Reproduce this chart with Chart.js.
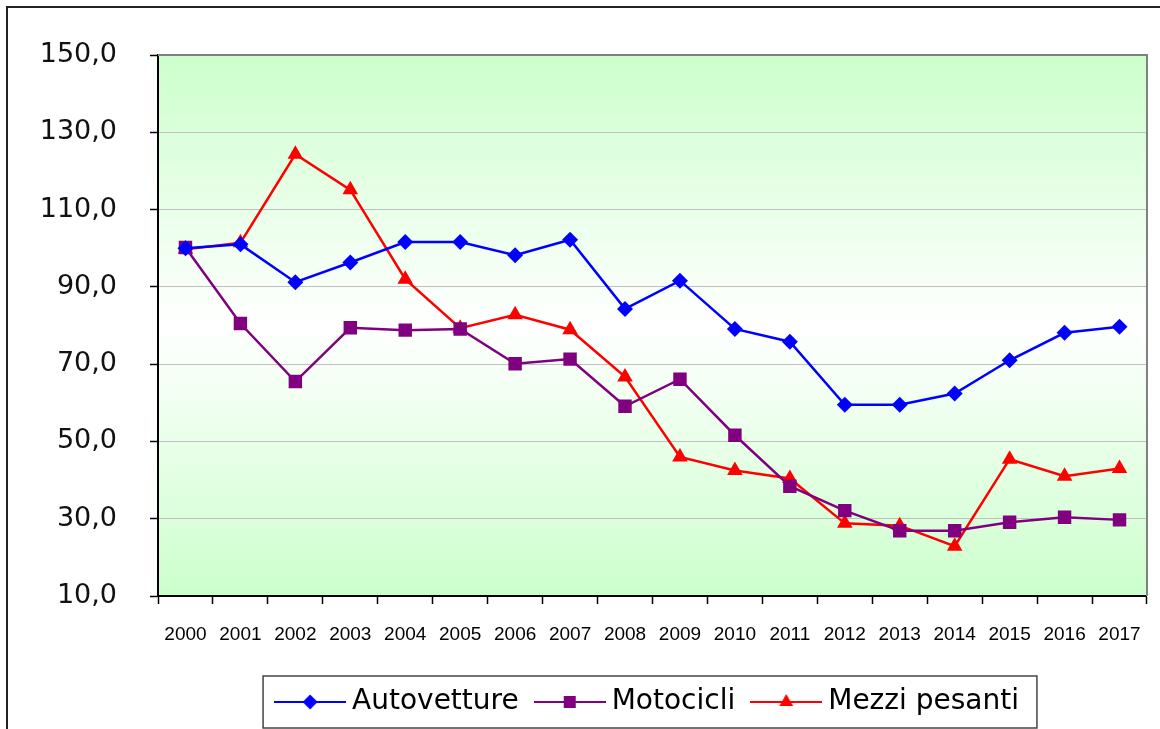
<!DOCTYPE html>
<html>
<head>
<meta charset="utf-8">
<script src="https://cdn.jsdelivr.net/npm/chart.js@4/dist/chart.umd.min.js"></script>
<style>
  html, body { margin: 0; padding: 0; background: #fff; }
  #wrap { width: 1160px; height: 729px; }
</style>
</head>
<body>
<div id="wrap"><canvas id="indiceChart"></canvas></div>
<script>
// anni e indici (2000 = 100)
const anni = ['2000','2001','2002','2003','2004','2005','2006','2007','2008',
              '2009','2010','2011','2012','2013','2014','2015','2016','2017'];
const autovetture = [100.0, 101.0, 91.2, 96.3, 101.6, 101.6, 98.2, 102.2, 84.3,
                     91.6, 79.1, 75.8, 59.5, 59.5, 62.4, 71.0, 78.1, 79.7];
const motocicli = [100.2, 80.5, 65.5, 79.4, 78.8, 79.1, 70.1, 71.3, 59.1,
                   66.1, 51.6, 38.4, 32.1, 26.9, 26.9, 29.1, 30.4, 29.7];
const mezziPesanti = [99.7, 101.4, 124.3, 115.1, 92.0, 79.3, 82.8, 78.9, 66.7,
                      46.0, 42.5, 40.4, 28.8, 28.2, 22.9, 45.4, 41.0, 43.0];
const yMin = 10, yMax = 150, yStep = 20;

// simbolo legenda: linea con marcatore al centro
function legendSymbol(color, style, radius) {
  const c = document.createElement('canvas');
  c.width = 72; c.height = 20;
  const ctx = c.getContext('2d');
  ctx.strokeStyle = color;
  ctx.lineWidth = 2;
  ctx.beginPath();
  ctx.moveTo(0, 10); ctx.lineTo(72, 10);
  ctx.stroke();
  ctx.fillStyle = color;
  Chart.helpers.drawPoint(ctx, { pointStyle: style, radius: radius, borderWidth: 0, rotation: 0 }, 36, 10);
  return c;
}

const symAuto = legendSymbol('#0000ff', 'rectRot', 7.5);
const symMoto = legendSymbol('#800080', 'rect', 8.5);
const symPes  = legendSymbol('#ff0000', 'triangle', 8);

// sfondo sfumato verde-bianco-verde e cornici
const cornice = {
  id: 'cornice',
  afterUpdate(chart) {
    // legenda spostata a destra rispetto al centro del canvas
    const lg = chart.legend;
    if (!lg) return;
    lg.left += 77;
    lg.right += 77;
    lg.legendHitBoxes.forEach(h => { h.left += 77; });
  },
  beforeDraw(chart) {
    const { ctx, chartArea: a } = chart;
    const g = ctx.createLinearGradient(0, a.top, 0, a.bottom);
    g.addColorStop(0, '#ccffcc');
    g.addColorStop(0.5, '#ffffff');
    g.addColorStop(1, '#ccffcc');
    ctx.save();
    ctx.fillStyle = g;
    ctx.fillRect(a.left, a.top, a.right - a.left, a.bottom - a.top);
    ctx.restore();
  },
  beforeDatasetsDraw(chart) {
    const { ctx, chartArea: a } = chart;
    ctx.save();
    ctx.strokeStyle = '#808080';
    ctx.lineWidth = 2;
    ctx.beginPath();
    ctx.moveTo(a.left, a.top);
    ctx.lineTo(a.right, a.top);
    ctx.lineTo(a.right, a.bottom);
    ctx.stroke();
    ctx.restore();
  },
  afterDraw(chart) {
    const ctx = chart.ctx;
    ctx.save();
    // bordo esterno del grafico
    ctx.strokeStyle = '#222';
    ctx.lineWidth = 2;
    ctx.beginPath();
    ctx.moveTo(7, 729);
    ctx.lineTo(7, 7);
    ctx.lineTo(1160, 7);
    ctx.stroke();
    // riquadro legenda
    const hb = chart.legend.legendHitBoxes;
    if (hb && hb.length) {
      const first = hb[0], last = hb[hb.length - 1];
      const cy = first.top + first.height / 2;
      const left = first.left - 19;
      const right = last.left + last.width + 18;
      ctx.strokeStyle = '#444';
      ctx.lineWidth = 1.5;
      ctx.strokeRect(left, cy - 26, right - left, 52);
    }
    ctx.restore();
  }
};

new Chart(document.getElementById('indiceChart'), {
  type: 'line',
  data: {
    labels: anni,
    datasets: [{
      label: 'Autovetture',
      data: autovetture,
      borderColor: '#0000ff',
      backgroundColor: '#0000ff',
      borderWidth: 2.5,
      pointStyle: 'rectRot',
      pointRadius: 8,
      pointBorderWidth: 0,
      tension: 0
    }, {
      label: 'Motocicli',
      data: motocicli,
      borderColor: '#800080',
      backgroundColor: '#800080',
      borderWidth: 2.5,
      pointStyle: 'rect',
      pointRadius: 9.5,
      pointBorderWidth: 0,
      tension: 0
    }, {
      label: 'Mezzi pesanti',
      data: mezziPesanti,
      borderColor: '#ff0000',
      backgroundColor: '#ff0000',
      borderWidth: 2.5,
      pointStyle: 'triangle',
      pointRadius: 9,
      pointBorderWidth: 0,
      tension: 0
    }]
  },
  options: {
    responsive: true,
    maintainAspectRatio: false,
    animation: false,
    layout: { padding: { top: 55, left: 0, right: 13, bottom: 3 } },
    plugins: {
      tooltip: { enabled: false },
      legend: {
        position: 'bottom',
        labels: {
          usePointStyle: true,
          pointStyleWidth: 56,
          padding: 23,
          color: '#000',
          font: { family: '"DejaVu Sans", Verdana, sans-serif', size: 28 },
          generateLabels(chart) {
            const syms = [symAuto, symMoto, symPes];
            return chart.data.datasets.map((ds, i) => ({
              text: ds.label,
              pointStyle: syms[i],
              fillStyle: ds.borderColor,
              strokeStyle: ds.borderColor,
              lineWidth: 0,
              fontColor: '#000',
              hidden: false,
              datasetIndex: i
            }));
          }
        }
      }
    },
    scales: {
      x: {
        offset: true,
        afterFit(scale) { scale.height = 69; },
        grid: {
          offset: true,
          drawOnChartArea: false,
          tickLength: 8,
          tickColor: '#000',
          tickWidth: 1.5
        },
        border: { color: '#000', width: 2 },
        ticks: {
          color: '#000',
          padding: 19,
          maxRotation: 0,
          autoSkip: false,
          font: { family: '"Liberation Sans", Arial, sans-serif', size: 19 }
        }
      },
      y: {
        min: yMin,
        max: yMax,
        afterFit(scale) { scale.width = 158; },
        grid: {
          color: '#c0c0c0',
          lineWidth: 1,
          tickLength: 8,
          tickColor: '#000',
          tickWidth: 1.5
        },
        border: { color: '#000', width: 2 },
        ticks: {
          stepSize: yStep,
          color: '#111',
          padding: 33,
          font: { family: '"DejaVu Sans", Verdana, sans-serif', size: 27 },
          callback(value) { return value.toFixed(1).replace('.', ','); }
        }
      }
    }
  },
  plugins: [cornice]
});
</script>
</body>
</html>
